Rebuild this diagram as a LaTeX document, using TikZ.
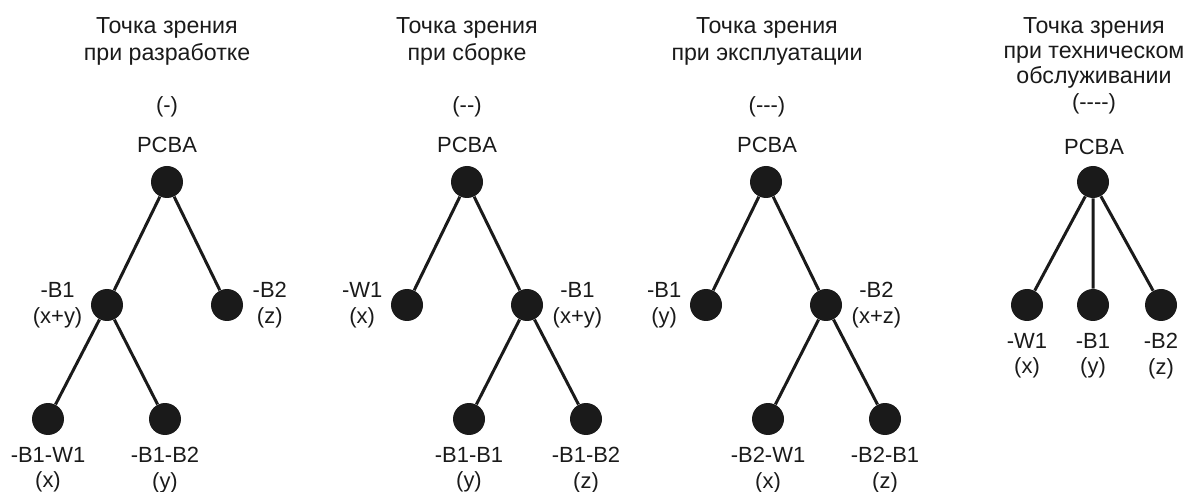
\documentclass[tikz,border=0pt]{standalone}
\usepackage{fontspec}
\setmainfont{Liberation Sans}
\usepackage{xcolor}
\usepackage{tikz}
\usetikzlibrary{positioning}
\definecolor{inkc}{HTML}{1A1A1A}
\tikzset{
  dot/.style={circle,fill=inkc,minimum size=6.4mm,inner sep=0pt},
  ln/.style={line width=1.7pt,inkc},
  lbl/.style={align=center,font=\fontsize{12.5}{14.5}\selectfont,inner sep=0pt,text=inkc},
  ttl/.style={lbl,anchor=north,font=\fontsize{13.2}{15.4}\selectfont},
  lft/.style={label={[lbl,label distance=1.6mm]left:{#1}}},
  rgt/.style={label={[lbl,label distance=1.8mm]right:{#1}}},
  blw/.style={label={[lbl,label distance=2.3mm]below:{#1}}}
}

\begin{document}
\begin{tikzpicture}[x=0.02cm,y=-0.02cm]
\useasboundingbox (0,0) rectangle (1192,492);
% tree 1
\node[ttl] (h1) at (167,17) {Точка зрения\\при разработке};
\node[lbl] (k1) at (167,107) {(-)};
\node[lbl] (p1) at (167,145) {PCBA};
\node[dot] (r1) at (167,182) {};
\node[dot,lft={-B1\\(x+y)}] (a1) at (107,305) {};
\node[dot,rgt={-B2\\(z)}] (b1) at (227,305) {};
\node[dot,blw={-B1-W1\\(x)}] (c1) at (48,419) {};
\node[dot,blw={-B1-B2\\(y)}] (d1) at (165,419) {};
\draw[ln] (r1)--(a1) (r1)--(b1) (a1)--(c1) (a1)--(d1);
% tree 2
\node[ttl] (h2) at (467,17) {Точка зрения\\при сборке};
\node[lbl] (k2) at (467,107) {({-}{-})};
\node[lbl] (p2) at (467,145) {PCBA};
\node[dot] (r2) at (467,182) {};
\node[dot,lft={-W1\\(x)}] (a2) at (407,305) {};
\node[dot,rgt={-B1\\(x+y)}] (b2) at (527,305) {};
\node[dot,blw={-B1-B1\\(y)}] (c2) at (469,419) {};
\node[dot,blw={-B1-B2\\(z)}] (d2) at (586,419) {};
\draw[ln] (r2)--(a2) (r2)--(b2) (b2)--(c2) (b2)--(d2);
% tree 3
\node[ttl] (h3) at (767,17) {Точка зрения\\при эксплуатации};
\node[lbl] (k3) at (767,107) {({-}{-}{-})};
\node[lbl] (p3) at (767,145) {PCBA};
\node[dot] (r3) at (766,182) {};
\node[dot,lft={-B1\\(y)}] (a3) at (706,305) {};
\node[dot,rgt={-B2\\(x+z)}] (b3) at (826,305) {};
\node[dot,blw={-B2-W1\\(x)}] (c3) at (768,419) {};
\node[dot,blw={-B2-B1\\(z)}] (d3) at (885,419) {};
\draw[ln] (r3)--(a3) (r3)--(b3) (b3)--(c3) (b3)--(d3);
% tree 4
\node[ttl,font=\fontsize{13.2}{14.4}\selectfont] (h4) at (1094,17) {Точка зрения\\при техническом\\обслуживании};
\node[lbl] (k4) at (1094,104) {({-}{-}{-}{-})};
\node[lbl] (p4) at (1094,147) {PCBA};
\node[dot] (r4) at (1093,182) {};
\node[dot,blw={-W1\\(x)}] (a4) at (1027,305) {};
\node[dot,blw={-B1\\(y)}] (b4) at (1093,305) {};
\node[dot,blw={-B2\\(z)}] (c4) at (1161,305) {};
\draw[ln] (r4)--(a4) (r4)--(b4) (r4)--(c4);
\end{tikzpicture}
\end{document}
